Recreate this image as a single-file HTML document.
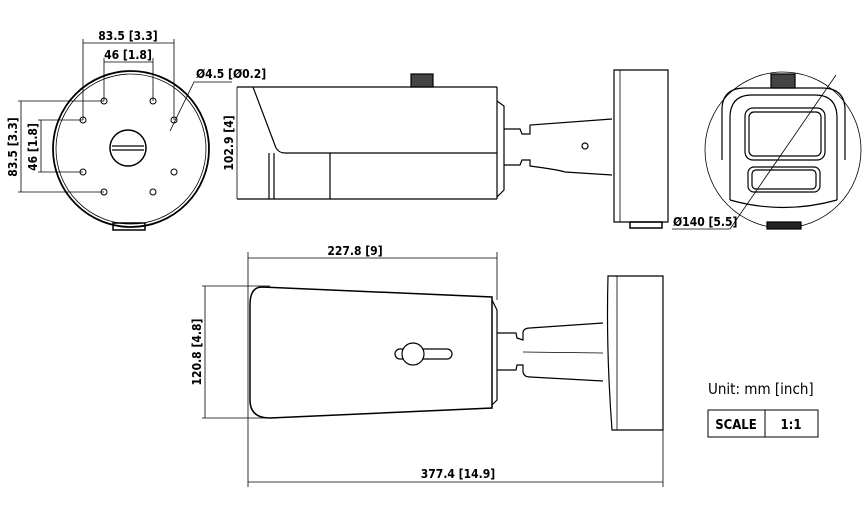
<!DOCTYPE html>
<html><head><meta charset="utf-8"><style>
html,body{margin:0;padding:0;background:#fff;}
svg{display:block;}
text{font-family:"DejaVu Sans Condensed","Liberation Sans",sans-serif;font-weight:bold;fill:#000;}
</style></head><body>
<svg width="868" height="510" viewBox="0 0 868 510" xmlns="http://www.w3.org/2000/svg">
<g fill="none" stroke="#000" stroke-width="1.2">
<!-- Top-left plate view -->
<circle cx="131" cy="149" r="78" stroke-width="1.8"/>
<circle cx="131" cy="149" r="75" stroke-width="0.8"/>
<g stroke-width="1">
<circle cx="104" cy="101" r="3"/><circle cx="153" cy="101" r="3"/>
<circle cx="83" cy="120" r="3"/><circle cx="174" cy="120" r="3"/>
<circle cx="83" cy="172" r="3"/><circle cx="174" cy="172" r="3"/>
<circle cx="104" cy="192" r="3"/><circle cx="153" cy="192" r="3"/>
</g>
<circle cx="128" cy="148" r="18" stroke-width="1.5"/>
<line x1="112" y1="146" x2="144" y2="146"/><line x1="112" y1="150" x2="144" y2="150"/>
<rect x="113" y="223" width="32" height="7" stroke-width="1.5"/>
<!-- dims -->
<line x1="83" y1="39" x2="83" y2="120" stroke-width="0.8"/>
<line x1="174" y1="39" x2="174" y2="120" stroke-width="0.8"/>
<line x1="83" y1="43" x2="174" y2="43" stroke-width="0.8"/>
<line x1="104" y1="58" x2="104" y2="101" stroke-width="0.8"/>
<line x1="153" y1="58" x2="153" y2="101" stroke-width="0.8"/>
<line x1="104" y1="62" x2="153" y2="62" stroke-width="0.8"/>
<line x1="18" y1="101" x2="104" y2="101" stroke-width="0.8"/>
<line x1="18" y1="192" x2="104" y2="192" stroke-width="0.8"/>
<line x1="21" y1="101" x2="21" y2="192" stroke-width="0.8"/>
<line x1="38" y1="120" x2="83" y2="120" stroke-width="0.8"/>
<line x1="38" y1="172" x2="83" y2="172" stroke-width="0.8"/>
<line x1="41" y1="120" x2="41" y2="172" stroke-width="0.8"/>
<polyline points="170,131 194,82 232,82" stroke-width="0.8"/>

<!-- Side view -->
<line x1="237" y1="87" x2="237" y2="199" stroke-width="0.8"/>
<line x1="237" y1="87" x2="497" y2="87"/>
<line x1="237" y1="199" x2="497" y2="199"/>
<path d="M253 87 L276 148 Q279 153 285 153 L497 153"/>
<line x1="269" y1="153" x2="269" y2="199"/><line x1="274" y1="153" x2="274" y2="199"/>
<line x1="330" y1="153" x2="330" y2="199"/>
<line x1="497" y1="87" x2="497" y2="199"/>
<path d="M497 101 L504 106 L504 190 L497 197"/>
<rect x="411" y="74" width="22" height="13" fill="#444"/>
<path d="M504 129 L520 129 L522 134 L530 134 L530 125 L612 119"/>
<path d="M504 165 L520 165 L522 160 L530 160 L530 166 Q560 170 565 172 L612 175"/>
<circle cx="585" cy="146" r="3"/>
<path d="M614 70 L668 70 L668 222 L614 222 Z"/>
<line x1="620" y1="70" x2="620" y2="222" stroke-width="0.8"/>
<rect x="630" y="222" width="32" height="6" stroke-width="1.5"/>

<!-- Front view -->
<circle cx="783" cy="150" r="78" stroke-width="0.8"/>
<path d="M722 160 L722 110 Q722 88 745 88 L822 88 Q845 88 845 110 L845 160" stroke-width="1.2"/>
<path d="M730 200 L730 118 Q730 95 752 95 L815 95 Q837 95 837 118 L837 200" stroke-width="1.2"/>
<rect x="745" y="108" width="80" height="52" rx="8"/>
<rect x="749" y="112" width="72" height="44" rx="5"/>
<rect x="748" y="167" width="72" height="25" rx="6"/>
<rect x="752" y="170" width="64" height="19" rx="4"/>
<path d="M730 200 Q783 215 837 200"/>
<rect x="771" y="74" width="24" height="14" fill="#444"/>
<rect x="767" y="222" width="34" height="7" fill="#222"/>
<polyline points="836,75 730,229 672,229" stroke-width="0.8"/>

<!-- Bottom view -->
<line x1="248" y1="252" x2="248" y2="487" stroke-width="0.8"/>
<line x1="497" y1="252" x2="497" y2="300" stroke-width="0.8"/>
<line x1="248" y1="258" x2="497" y2="258" stroke-width="0.8"/>
<line x1="202" y1="286" x2="270" y2="286" stroke-width="0.8"/>
<line x1="202" y1="418" x2="270" y2="418" stroke-width="0.8"/>
<line x1="205" y1="286" x2="205" y2="418" stroke-width="0.8"/>
<line x1="663" y1="420" x2="663" y2="487" stroke-width="0.8"/>
<line x1="248" y1="482" x2="663" y2="482" stroke-width="0.8"/>
<path d="M262 287 L492 297 L492 408 L270 418 Q250 418 250 400 L250 305 Q250 287 262 287 Z" stroke-width="1.5"/>
<path d="M492 300 L497 310 L497 400 L492 405"/>
<path d="M497 333 L516 333 L517 338 L523 340 L523 332 Q524 328 530 328 L603 323"/>
<path d="M497 370 L516 370 L517 365 L523 365 L523 372 Q524 377 530 377 L603 381"/>
<line x1="523" y1="352" x2="603" y2="353" stroke-width="0.8"/>
<path d="M608 276 L663 276 L663 430 L612 430 Q606 350 608 276 Z"/>
<line x1="617" y1="276" x2="617" y2="430" stroke-width="0.8"/>
<rect x="395" y="349" width="57" height="10" rx="5"/>
<circle cx="413" cy="354" r="11" fill="#fff"/>

<!-- scale table -->
<rect x="708" y="410" width="110" height="27" stroke-width="1"/>
<line x1="765" y1="410" x2="765" y2="437" stroke-width="1"/>
</g>
<g font-size="12">
<text x="128" y="40" text-anchor="middle">83.5 [3.3]</text>
<text x="128" y="59" text-anchor="middle">46 [1.8]</text>
<text x="196" y="78">Ø4.5 [Ø0.2]</text>
<text transform="translate(17,147) rotate(-90)" text-anchor="middle">83.5 [3.3]</text>
<text transform="translate(37,147) rotate(-90)" text-anchor="middle">46 [1.8]</text>
<text transform="translate(233,143) rotate(-90)" text-anchor="middle">102.9 [4]</text>
<text x="673" y="226">Ø140 [5.5]</text>
<text x="355" y="255" text-anchor="middle">227.8 [9]</text>
<text transform="translate(201,352) rotate(-90)" text-anchor="middle">120.8 [4.8]</text>
<text x="458" y="478" text-anchor="middle">377.4 [14.9]</text>
</g>
<text x="708" y="394" font-size="15" font-weight="normal" style="font-weight:normal">Unit: mm [inch]</text>
<text x="736" y="429" font-size="13" text-anchor="middle">SCALE</text>
<text x="791" y="429" font-size="13" text-anchor="middle">1:1</text>
</svg>
</body></html>
